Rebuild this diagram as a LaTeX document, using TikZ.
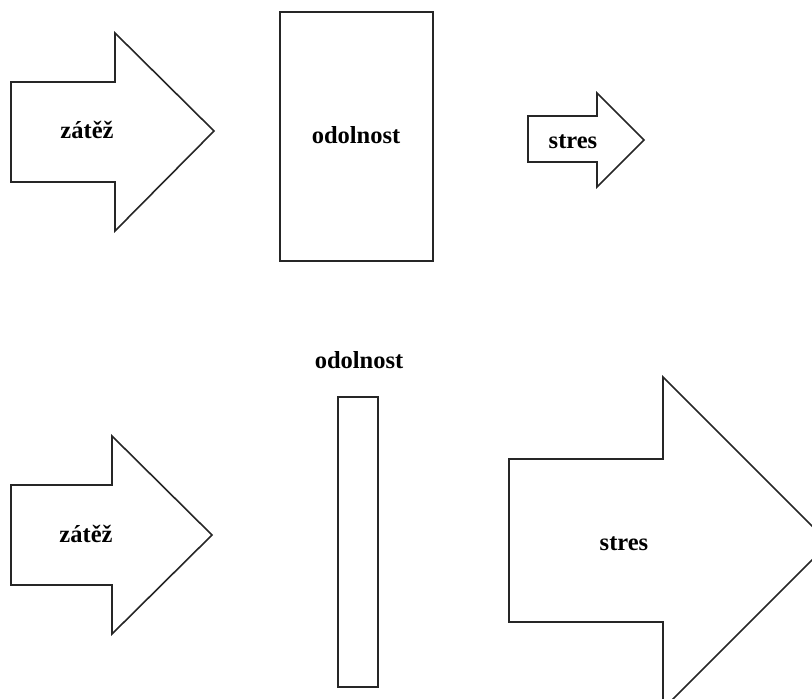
\documentclass[tikz,border=0pt]{standalone}
\usepackage{fontspec}
\setmainfont{Liberation Serif}
\begin{document}
\begin{tikzpicture}[x=1pt,y=-1pt,
  shp/.style={draw=black!85,line width=1.6pt,line join=miter},
  lbl/.style={anchor=base,inner sep=0pt,font=\fontsize{24.5}{28}\selectfont\bfseries}]
\useasboundingbox (0,0) rectangle (812,699);
\clip (0,0) rectangle (812,699);
% top row
\draw[shp] (11,82) -- (115,82) -- (115,33) -- (214,131) -- (115,231) -- (115,182) -- (11,182) -- cycle;
\node[lbl] (z1) at (87,138) {zátěž};
\draw[shp] (280,12) rectangle (433,261);
\node[lbl] (o1) at (356,143) {odolnost};
\draw[shp] (528,116) -- (597,116) -- (597,93) -- (644,140) -- (597,187) -- (597,162) -- (528,162) -- cycle;
\node[lbl] (s1) at (573,148) {stres};
% bottom row
\draw[shp] (11,485) -- (112,485) -- (112,436) -- (212,535) -- (112,634) -- (112,585) -- (11,585) -- cycle;
\node[lbl] (z2) at (86,542) {zátěž};
\node[lbl] (o2) at (359,368) {odolnost};
\draw[shp] (338,397) rectangle (378,687);
\draw[shp] (509,459) -- (663,459) -- (663,377) -- (829,543) -- (663,709) -- (663,622) -- (509,622) -- cycle;
\node[lbl] (s2) at (624,550) {stres};
\end{tikzpicture}
\end{document}
